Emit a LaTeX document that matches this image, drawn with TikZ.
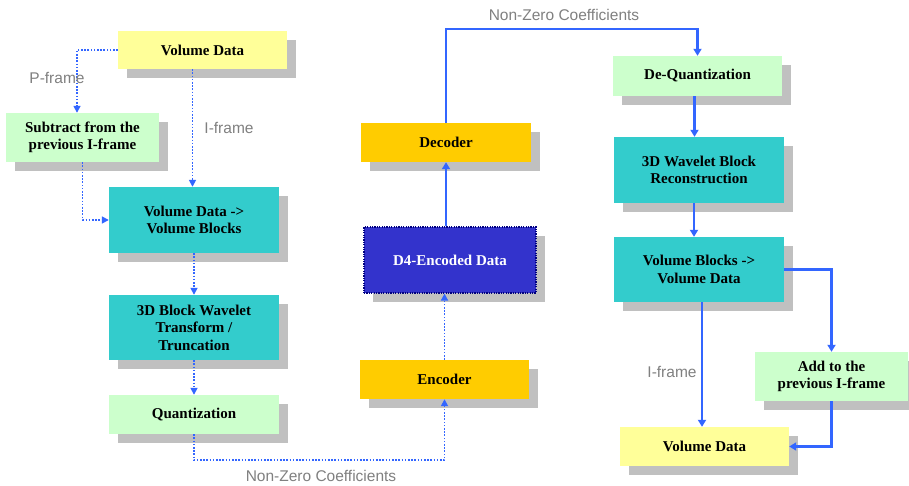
\documentclass[tikz,border=0pt]{standalone}
\usepackage{fontspec}
\setmainfont{Liberation Serif}
\setsansfont{Liberation Sans}
\usetikzlibrary{arrows.meta,shadows}
\definecolor{cyellow}{HTML}{FFFF99}
\definecolor{cgreen}{HTML}{CCFFCC}
\definecolor{cteal}{HTML}{33CCCC}
\definecolor{corange}{HTML}{FFCC00}
\definecolor{cblue}{HTML}{3333CC}
\definecolor{cnavy}{HTML}{000080}
\definecolor{cshadow}{HTML}{C0C0C0}
\definecolor{cline}{HTML}{3366FF}
\definecolor{clabel}{HTML}{808080}
\tikzset{
  box/.style={rectangle, inner sep=2pt, align=center, font=\fontsize{15}{17.5}\selectfont\bfseries,
    drop shadow={shadow xshift=9pt, shadow yshift=-9pt, fill=cshadow, opacity=1}},
  yellowbox/.style={box, fill=cyellow},
  greenbox/.style={box, fill=cgreen},
  tealbox/.style={box, fill=cteal},
  orangebox/.style={box, fill=corange},
  bluebox/.style={box, fill=cblue, draw=cnavy, line width=1.2pt, dash pattern=on 1.2pt off 1.2pt, text=white},
  dotline/.style={draw=cline, line width=1.6pt, dash pattern=on 1.6pt off 1.6pt, -{Triangle[width=7pt,length=7pt]}},
  solidline/.style={draw=cline, line width=2.2pt, -{Triangle[width=8pt,length=7pt]}},
  lbl/.style={font=\sffamily\fontsize{15.5}{17}\selectfont, text=clabel, inner sep=0pt}
}
\begin{document}
\begin{tikzpicture}[x=1pt,y=-1pt]
\useasboundingbox (0,0) rectangle (909,486);
\fill[white] (0,0) rectangle (909,486);
% left column
\node[yellowbox, minimum width=169pt, minimum height=38pt] (vd1) at (202.5,50) {Volume Data};
\node[greenbox, minimum width=153pt, minimum height=49pt] (sub) at (82.5,137.5) {Subtract from the\\previous I-frame};
\node[tealbox, minimum width=170pt, minimum height=66pt] (vb) at (194,220) {Volume Data ->\\Volume Blocks};
\node[tealbox, minimum width=170pt, minimum height=65pt] (wt) at (194,327.5) {3D Block Wavelet\\Transform /\\Truncation};
\node[greenbox, minimum width=170pt, minimum height=39pt] (qu) at (194,414.5) {Quantization};
% middle column
\node[orangebox, minimum width=169pt, minimum height=39pt] (enc) at (444.5,379.5) {Encoder};
\node[bluebox, minimum width=172pt, minimum height=66pt] (d4) at (450,260) {\textcolor{white}{D4-Encoded Data}};
\node[orangebox, minimum width=170pt, minimum height=39pt] (dec) at (446,142.5) {Decoder};
% right column
\node[greenbox, minimum width=169pt, minimum height=40pt] (dq) at (697.5,76) {De-Quantization};
\node[tealbox, minimum width=170pt, minimum height=66pt] (rec) at (699,170) {3D Wavelet Block\\Reconstruction};
\node[tealbox, minimum width=170pt, minimum height=65pt] (vbd) at (699,269.5) {Volume Blocks ->\\Volume Data};
\node[greenbox, minimum width=153pt, minimum height=49pt] (add) at (831.5,376.5) {Add to the\\previous I-frame};
\node[yellowbox, minimum width=169pt, minimum height=39pt] (vd2) at (704.5,446.5) {Volume Data};
% connectors
\draw[dotline] (vd1.west) -| ([xshift=-5.5pt]sub.north);
\draw[dotline] ([xshift=-10pt]vd1.south) -- ([xshift=-10pt]vd1.south |- vb.north);
\draw[dotline] (sub.south) |- (vb.west);
\draw[dotline] (vb.south) -- (wt.north);
\draw[dotline] (wt.south) -- (qu.north);
\draw[dotline] (qu.south) -- ++(0,26) -| (enc.south);
\draw[dotline] (enc.north) -- (enc.north |- d4.south);
\draw[solidline] (d4.north -| dec.south) -- (dec.south);
\draw[solidline] (dec.north) -- ++(0,-94) -| (dq.north);
\draw[solidline] ([xshift=-3pt]dq.south) -- ([xshift=-3pt]dq.south |- rec.north);
\draw[solidline] ([xshift=-5pt]rec.south) -- ([xshift=-5pt]vbd.north);
\draw[solidline] (vbd.east) -| (add.north);
\draw[solidline] ([xshift=3pt]vbd.south) -- ([xshift=3pt]vbd.south |- vd2.north);
\draw[solidline] (add.south) |- (vd2.east);
% labels
\node[lbl] (l1) at (57,78) {P-frame};
\node[lbl] (l2) at (229,128) {I-frame};
\node[lbl] (l3) at (321,476) {Non-Zero Coefficients};
\node[lbl] (l4) at (564,15) {Non-Zero Coefficients};
\node[lbl] (l5) at (672,372) {I-frame};
\end{tikzpicture}
\end{document}
